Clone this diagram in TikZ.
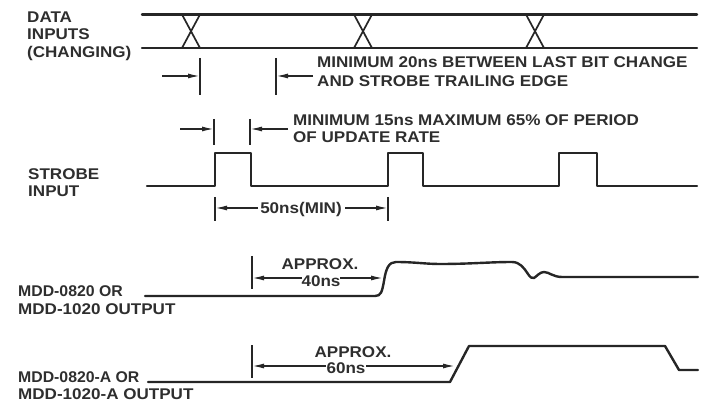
\documentclass[tikz,border=0pt]{standalone}
\usepackage{fontspec}
\setmainfont{Liberation Sans}[FakeStretch=1.1]
\newfontfamily\orfont{Liberation Sans}[FakeStretch=1.02]
\usetikzlibrary{arrows.meta}
\tikzset{
  wave/.style={line width=2.4pt, line join=round, line cap=round, color=black!85},
  xcross/.style={line width=1.7pt, color=black!85},
  tick/.style={line width=1.6pt, color=black!85},
  dimarrow/.style={line width=1.5pt, color=black!85, -{Latex[length=12pt,width=5pt]}},
  lbl/.style={font=\fontsize{15.5}{18}\selectfont\bfseries, inner sep=0pt, anchor=base west, text=black!82},
  orlbl/.style={lbl, font=\fontsize{15.5}{18}\orfont\bfseries},
  clbl/.style={font=\fontsize{15.5}{18}\selectfont\bfseries, inner sep=0pt, anchor=base, text=black!82},
}
\begin{document}
\begin{tikzpicture}[x=1pt,y=-1pt]
\useasboundingbox (0,0) rectangle (704,403);
% ---------------- labels on the left
\node[lbl] (dataA) at (27,23) {DATA};
\node[lbl] (dataB) at (27,40) {INPUTS};
\node[lbl] (dataC) at (27,58) {(CHANGING)};
\node[lbl] (strA) at (28,180) {STROBE};
\node[lbl] (strB) at (28,197) {INPUT};
\node[orlbl] (mddA) at (18,297) {MDD-0820 OR};
\node[lbl] (mddB) at (18,315) {MDD-1020 OUTPUT};
\node[orlbl] (mddC) at (18,382) {MDD-0820-A OR};
\node[lbl] (mddD) at (18,399) {MDD-1020-A OUTPUT};
% ---------------- data inputs
\draw[wave] (142,14.5) -- (697,14.5);
\draw[wave] (142,48) -- (697,48);
\foreach \xa/\xb in {182/200, 354/372, 526/544}{
  \draw[xcross] (\xa,14.5) -- (\xb,48) (\xb,14.5) -- (\xa,48);
}
% 20 ns dimension
\coordinate (t1a) at (200,58); \coordinate (t1b) at (200,95);
\coordinate (t2a) at (276,58); \coordinate (t2b) at (276,95);
\draw[tick] (t1a) -- (t1b);
\draw[tick] (t2a) -- (t2b);
\coordinate (a1s) at (162,76); \coordinate (a1e) at (200,76);
\coordinate (a2s) at (313,76); \coordinate (a2e) at (276,76);
\draw[dimarrow] (a1s) -- (a1e);
\draw[dimarrow] (a2s) -- (a2e);
\node[lbl] (n20a) at (317,68) {MINIMUM 20ns BETWEEN LAST BIT CHANGE};
\node[lbl] (n20b) at (317,87) {AND STROBE TRAILING EDGE};
% 15 ns dimension
\coordinate (t3a) at (214,119); \coordinate (t3b) at (214,145);
\coordinate (t4a) at (250,119); \coordinate (t4b) at (250,145);
\draw[tick] (t3a) -- (t3b);
\draw[tick] (t4a) -- (t4b);
\coordinate (a3s) at (180,129); \coordinate (a3e) at (214,129);
\coordinate (a4s) at (288,129); \coordinate (a4e) at (250,129);
\draw[dimarrow] (a3s) -- (a3e);
\draw[dimarrow] (a4s) -- (a4e);
\node[lbl] (n15a) at (293,126) {MINIMUM 15ns MAXIMUM 65\% OF PERIOD};
\node[lbl] (n15b) at (293,143) {OF UPDATE RATE};
% ---------------- strobe
\draw[wave] (147,186) -- (215,186) -- (215,153) -- (251,153) -- (251,186)
  -- (388,186) -- (388,153) -- (423,153) -- (423,186)
  -- (559,186) -- (559,153) -- (597,153) -- (597,186) -- (697,186);
% 50 ns dimension
\coordinate (t5a) at (215,197); \coordinate (t5b) at (215,221);
\coordinate (t6a) at (388,197); \coordinate (t6b) at (388,221);
\draw[tick] (t5a) -- (t5b);
\draw[tick] (t6a) -- (t6b);
\node[clbl] (n50) at (301,214) {50ns(MIN)};
\coordinate (a5s) at (258,208); \coordinate (a5e) at (215,208);
\coordinate (a6s) at (345,208); \coordinate (a6e) at (388,208);
\draw[dimarrow] (a5s) -- (a5e);
\draw[dimarrow] (a6s) -- (a6e);
% ---------------- MDD-0820 output
\draw[wave] (145,296) -- (375,296) .. controls (381,296) and (382,292) .. (384,281)
  .. controls (386,268) and (389,262) .. (396,262)
  .. controls (415,262) and (425,264) .. (440,264)
  .. controls (470,264) and (490,262) .. (512,262)
  .. controls (520,262) and (524,268) .. (528,274)
  .. controls (530,277) and (532,279) .. (534,278)
  .. controls (537,276) and (540,272) .. (544,272)
  .. controls (549,272) and (553,277) .. (562,277) -- (698,277);
\coordinate (t7a) at (252,256); \coordinate (t7b) at (252,289);
\draw[tick] (t7a) -- (t7b);
\node[clbl] (n40a) at (320,270) {APPROX.};
\node[clbl] (n40b) at (321,287) {40ns};
\coordinate (a7s) at (302,278); \coordinate (a7e) at (252,278);
\coordinate (a8s) at (340,278); \coordinate (a8e) at (383,278);
\draw[dimarrow] (a7s) -- (a7e);
\draw[dimarrow] (a8s) -- (a8e);
% ---------------- MDD-0820-A output
\draw[wave] (148,382) -- (450,382) -- (469,346) -- (665,346) -- (679,370) -- (698,370);
\coordinate (t8a) at (252,345); \coordinate (t8b) at (252,378);
\draw[tick] (t8a) -- (t8b);
\node[clbl] (n60a) at (353,357) {APPROX.};
\node[clbl] (n60b) at (346,373) {60ns};
\coordinate (a9s) at (326,366); \coordinate (a9e) at (252,366);
\coordinate (a10s) at (366,366); \coordinate (a10e) at (455,366);
\draw[dimarrow] (a9s) -- (a9e);
\draw[dimarrow] (a10s) -- (a10e);
\end{tikzpicture}
\end{document}
